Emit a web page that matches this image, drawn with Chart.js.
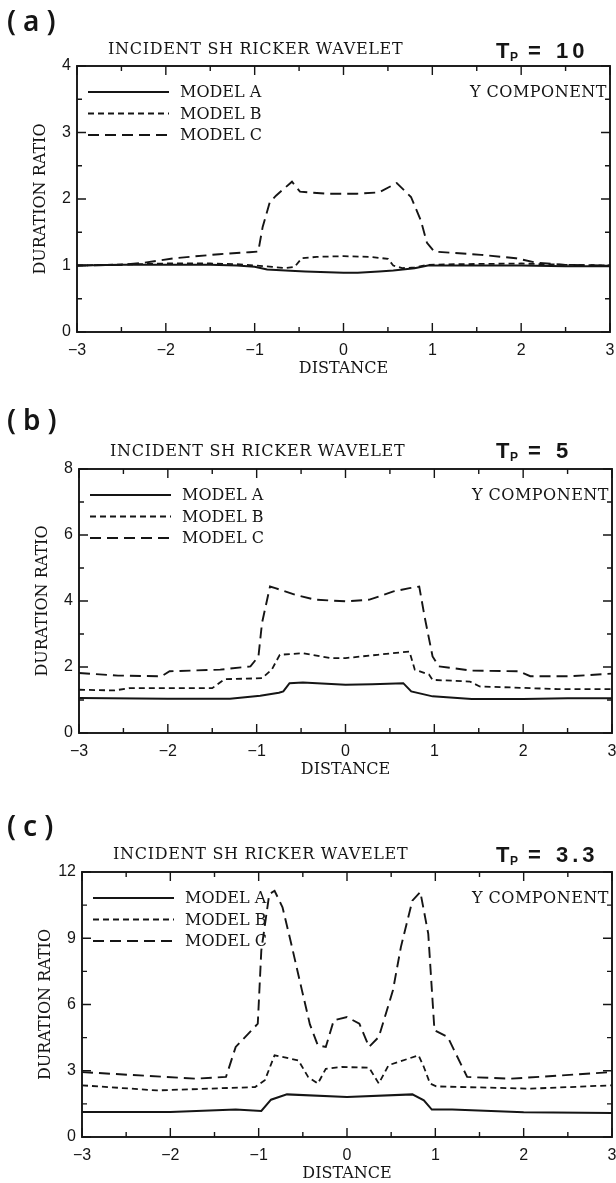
<!DOCTYPE html>
<html>
<head>
<meta charset="utf-8">
<title>Duration ratio</title>
<script src="https://cdn.jsdelivr.net/npm/chart.js@4.4.1/dist/chart.umd.min.js"></script>
<style>
  body { margin: 0; background: #fff; }
  canvas { position: absolute; left: 0; }
</style>
</head>
<body>
<canvas id="chart-a" width="616" height="390" style="top:0px"></canvas>
<canvas id="chart-b" width="616" height="400" style="top:390px"></canvas>
<canvas id="chart-c" width="616" height="393" style="top:790px"></canvas>
<script>
/* data */
const xTickLabels = [-3, -2, -1, 0, 1, 2, 3];

// (a) Tp = 10
const tp10AX = [-3, -2.5, -2, -1.5, -1.2, -1.0, -0.86, -0.6, -0.43, 0, 0.16, 0.4, 0.56, 0.8, 0.95, 1.5, 2, 2.5, 3];
const tp10AY = [1.0, 1.01, 1.01, 1.01, 1.0, 0.98, 0.94, 0.92, 0.91, 0.89, 0.89, 0.91, 0.925, 0.96, 1.0, 1.0, 1.0, 0.99, 0.99];
const tp10BX = [-3, -2.3, -2, -1.5, -1.2, -1.0, -0.8, -0.66, -0.55, -0.47, -0.3, 0, 0.3, 0.5, 0.56, 0.66, 0.8, 0.95, 1.3, 2, 2.5, 3];
const tp10BY = [1.0, 1.02, 1.03, 1.03, 1.02, 1.0, 0.98, 0.96, 0.98, 1.11, 1.13, 1.14, 1.13, 1.10, 1.0, 0.96, 0.97, 1.01, 1.02, 1.03, 1.01, 1.0];
const tp10CX = [-3, -2.5, -2.25, -1.9, -1.4, -1.06, -0.96, -0.91, -0.83, -0.76, -0.58, -0.49, -0.2, 0.15, 0.4, 0.6, 0.76, 0.87, 0.94, 1.02, 1.55, 1.94, 2.18, 2.5, 3];
const tp10CY = [1.0, 1.01, 1.04, 1.11, 1.17, 1.2, 1.21, 1.58, 1.95, 2.05, 2.26, 2.11, 2.08, 2.08, 2.1, 2.24, 2.03, 1.68, 1.34, 1.21, 1.16, 1.11, 1.04, 1.01, 1.0];
const tp10YLabels = [0, 1, 2, 3, 4];

// (b) Tp = 5
const tp5AX = [-3, -2, -1.3, -0.96, -0.75, -0.70, -0.63, -0.48, 0, 0.3, 0.65, 0.74, 0.98, 1.42, 2, 2.5, 3];
const tp5AY = [1.06, 1.04, 1.04, 1.13, 1.22, 1.26, 1.51, 1.53, 1.46, 1.48, 1.51, 1.26, 1.11, 1.03, 1.03, 1.05, 1.05];
const tp5BX = [-3, -2.6, -2.43, -1.5, -1.36, -0.94, -0.83, -0.74, -0.48, -0.17, 0, 0.36, 0.72, 0.78, 0.94, 0.98, 1.4, 1.51, 1.86, 2.39, 3];
const tp5BY = [1.31, 1.29, 1.36, 1.36, 1.63, 1.66, 1.92, 2.37, 2.42, 2.27, 2.27, 2.37, 2.47, 1.92, 1.77, 1.61, 1.56, 1.41, 1.38, 1.33, 1.33];
const tp5CX = [-3, -2.56, -2.07, -1.98, -1.41, -1.07, -0.98, -0.94, -0.85, -0.79, -0.57, -0.34, 0, 0.27, 0.54, 0.72, 0.83, 0.89, 0.98, 1.05, 1.42, 1.95, 2.08, 2.53, 3];
const tp5CY = [1.82, 1.74, 1.72, 1.87, 1.92, 2.02, 2.32, 3.33, 4.44, 4.39, 4.19, 4.04, 3.99, 4.04, 4.29, 4.39, 4.44, 3.53, 2.32, 2.02, 1.89, 1.87, 1.72, 1.72, 1.80];
const tp5YLabels = [0, 2, 4, 6, 8];

// (c) Tp = 3.3
const tp33AX = [-3, -2, -1.26, -0.97, -0.86, -0.68, 0, 0.74, 0.87, 0.96, 1.19, 2, 3];
const tp33AY = [1.13, 1.13, 1.24, 1.18, 1.69, 1.93, 1.81, 1.93, 1.66, 1.24, 1.24, 1.12, 1.09];
const tp33BX = [-3, -2.15, -1.04, -0.93, -0.82, -0.55, -0.44, -0.33, -0.24, -0.06, 0.25, 0.36, 0.47, 0.81, 0.87, 0.94, 1.01, 2.08, 3];
const tp33BY = [2.34, 2.11, 2.26, 2.57, 3.70, 3.47, 2.72, 2.42, 3.09, 3.17, 3.14, 2.42, 3.25, 3.70, 3.17, 2.42, 2.29, 2.19, 2.34];
const tp33CX = [-3, -1.71, -1.37, -1.26, -1.1, -1.01, -0.97, -0.88, -0.82, -0.73, -0.64, -0.51, -0.42, -0.33, -0.24, -0.15, 0, 0.14, 0.25, 0.36, 0.52, 0.61, 0.74, 0.83, 0.92, 0.99, 1.14, 1.36, 1.85, 3];
const tp33CY = [2.94, 2.64, 2.72, 4.08, 4.75, 5.13, 8.45, 11.0, 11.15, 10.4, 8.9, 6.64, 5.1, 4.15, 4.08, 5.28, 5.43, 5.13, 4.08, 4.53, 6.64, 8.6, 10.7, 11.1, 9.2, 4.83, 4.53, 2.72, 2.64, 2.94];
const tp33YLabels = [0, 3, 6, 9, 12];

const modelNames = ['MODEL A', 'MODEL B', 'MODEL C'];

const ink = '#151515';
const serif = '"DejaVu Serif", serif';
const sans = '"Liberation Sans", Arial, sans-serif';

function points(xs, ys) {
  return xs.map((x, i) => ({ x: x, y: ys[i] }));
}

function fmt(v) {
  return v < 0 ? '\u2212' + Math.abs(v) : String(v);
}

// frame, inward ticks and the texts of each panel
const decoPlugin = {
  id: 'deco',
  afterDraw(chart, args, o) {
    const ctx = chart.ctx;
    const { left, right, top, bottom } = chart.chartArea;
    const xs = chart.scales.x;
    const ys = chart.scales.y;
    ctx.save();
    ctx.strokeStyle = ink;
    ctx.fillStyle = ink;
    ctx.setLineDash([]);

    ctx.lineWidth = 1.4;
    ctx.beginPath();
    xs.ticks.forEach(t => {
      const p = xs.getPixelForValue(t.value);
      const len = t.label !== '' ? 9 : 5;
      ctx.moveTo(p, bottom); ctx.lineTo(p, bottom - len);
      ctx.moveTo(p, top); ctx.lineTo(p, top + len);
    });
    ys.ticks.forEach(t => {
      const p = ys.getPixelForValue(t.value);
      const len = t.label !== '' ? 9 : 5;
      ctx.moveTo(left, p); ctx.lineTo(left + len, p);
      ctx.moveTo(right, p); ctx.lineTo(right - len, p);
    });
    ctx.stroke();
    ctx.lineWidth = 1.9;
    ctx.strokeRect(left, top, right - left, bottom - top);

    // legend
    chart.data.datasets.forEach((ds, i) => {
      const y = top + 26 + i * 21.5;
      ctx.lineWidth = ds.borderWidth;
      ctx.setLineDash(ds.borderDash || []);
      ctx.beginPath();
      ctx.moveTo(left + 11, y);
      ctx.lineTo(left + 92, y);
      ctx.stroke();
      ctx.setLineDash([]);
      ctx.font = '16px ' + serif;
      ctx.textAlign = 'left';
      ctx.textBaseline = 'middle';
      ctx.fillText(ds.label, left + 103, y + 1);
    });

    ctx.font = '16px ' + serif;
    ctx.letterSpacing = '0.5px';
    ctx.textAlign = 'right';
    ctx.textBaseline = 'middle';
    ctx.fillText('Y COMPONENT', right - 3, top + 27);

    ctx.letterSpacing = '0.7px';
    ctx.textAlign = 'left';
    ctx.fillText('INCIDENT SH RICKER WAVELET', left + 31, o.titleY);

    ctx.letterSpacing = '0px';
    ctx.textAlign = 'center';
    ctx.fillText('DISTANCE', (left + right) / 2, bottom + 37);

    ctx.save();
    ctx.translate(left - 36, (top + bottom) / 2);
    ctx.rotate(-Math.PI / 2);
    ctx.fillText('DURATION RATIO', 0, 0);
    ctx.restore();

    // panel letter
    ctx.font = '600 28px "Noto Sans", sans-serif';
    ctx.letterSpacing = '7px';
    ctx.textAlign = 'left';
    ctx.fillText(o.letter, 7, o.letterY);

    // T_P = value
    ctx.letterSpacing = '0px';
    ctx.textBaseline = 'alphabetic';
    ctx.font = 'bold 22px ' + sans;
    ctx.fillText('T', 496, o.tpBase);
    ctx.font = 'bold 12px ' + sans;
    ctx.fillText('P', 510, o.tpBase + 3);
    ctx.font = 'bold 22px ' + sans;
    ctx.fillText('=', 528, o.tpBase);
    ctx.letterSpacing = '4px';
    ctx.fillText(o.tp, 556, o.tpBase);
    ctx.restore();
  }
};

function makePanel(id, p) {
  const canvas = document.getElementById(id);
  const h = canvas.height;
  return new Chart(canvas, {
    type: 'scatter',
    data: {
      datasets: [
        { label: modelNames[0], data: points(p.ax, p.ay), borderWidth: 2, borderDash: [] },
        { label: modelNames[1], data: points(p.bx, p.by), borderWidth: 1.8, borderDash: [6, 4] },
        { label: modelNames[2], data: points(p.cx, p.cy), borderWidth: 1.9, borderDash: [11, 6] }
      ].map(ds => Object.assign(ds, {
        showLine: true, borderColor: ink, pointRadius: 0, tension: 0, fill: false
      }))
    },
    options: {
      responsive: false,
      animation: false,
      events: [],
      layout: { padding: { left: 0, top: p.top, right: 616 - p.right, bottom: 0 } },
      scales: {
        x: {
          type: 'linear', min: -3, max: 3,
          grid: { display: false, drawTicks: false },
          border: { display: false },
          ticks: {
            stepSize: 0.5, autoSkip: false, maxRotation: 0, padding: 9,
            color: ink, font: { family: sans, size: 16 },
            callback: v => xTickLabels.includes(v) ? fmt(v) : ''
          },
          afterFit: s => { s.height = h - p.bottom; s.paddingLeft = 0; s.paddingRight = 0; }
        },
        y: {
          type: 'linear', min: 0, max: p.yMax,
          grid: { display: false, drawTicks: false },
          border: { display: false },
          ticks: {
            stepSize: p.yStep, autoSkip: false, padding: 6,
            color: ink, font: { family: sans, size: 16 },
            callback: v => p.yLabels.includes(v) ? fmt(v) : ''
          },
          afterFit: s => { s.width = p.left; s.paddingTop = 0; s.paddingBottom = 0; }
        }
      },
      plugins: {
        legend: { display: false },
        tooltip: { enabled: false },
        deco: { letter: p.letter, letterY: p.letterY, titleY: p.titleY, tpBase: p.tpBase, tp: p.tp }
      }
    },
    plugins: [decoPlugin]
  });
}

makePanel('chart-a', {
  ax: tp10AX, ay: tp10AY, bx: tp10BX, by: tp10BY, cx: tp10CX, cy: tp10CY,
  yMax: 4, yStep: 0.5, yLabels: tp10YLabels,
  left: 77, right: 610, top: 66, bottom: 332,
  letter: '(a)', letterY: 23, titleY: 50, tpBase: 58, tp: '10'
});
makePanel('chart-b', {
  ax: tp5AX, ay: tp5AY, bx: tp5BX, by: tp5BY, cx: tp5CX, cy: tp5CY,
  yMax: 8, yStep: 1, yLabels: tp5YLabels,
  left: 79, right: 612, top: 79, bottom: 343,
  letter: '(b)', letterY: 32, titleY: 62, tpBase: 68, tp: '5'
});
makePanel('chart-c', {
  ax: tp33AX, ay: tp33AY, bx: tp33BX, by: tp33BY, cx: tp33CX, cy: tp33CY,
  yMax: 12, yStep: 1.5, yLabels: tp33YLabels,
  left: 82, right: 612, top: 82, bottom: 347,
  letter: '(c)', letterY: 38, titleY: 65, tpBase: 72, tp: '3.3'
});
</script>
</body>
</html>
